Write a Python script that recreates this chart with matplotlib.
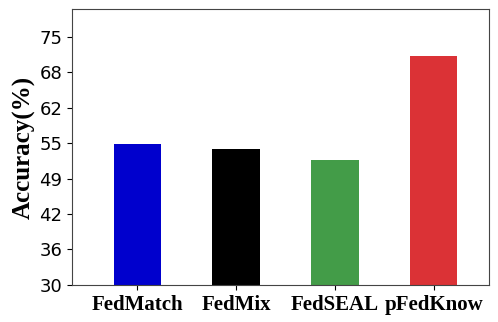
import numpy as np
import matplotlib
matplotlib.use("Agg")
import matplotlib.pyplot as plt

methods = ["FedMatch", "FedMix", "FedSEAL", "pFedKnow"]
accuracy = [55.6, 54.6, 52.6, 71.4]
colors = ["#0000cd", "#000000", "#439c48", "#db3236"]

fig = plt.figure(figsize=(4.98, 3.22), dpi=100)
ax = plt.axes([0.145, 0.115, 0.837, 0.857])

x = np.arange(len(methods))
ax.bar(x, accuracy, width=0.48, color=colors)

ax.set_ylim(30, 80)
ax.set_xlim(-0.66, 3.56)
yt = np.linspace(30, 75, 8)
ax.set_yticks(yt)
ax.set_yticklabels([str(int(v)) for v in yt], fontsize=13)
ax.set_xticks(x)
ax.set_xticklabels(methods, fontsize=15, fontweight="bold", family="Liberation Serif")
ax.set_ylabel("Accuracy(%)", fontsize=18, fontweight="bold", family="Liberation Serif", labelpad=3)

for s in ax.spines.values():
    s.set_color("#444444")

plt.savefig("out.png", dpi=100)
